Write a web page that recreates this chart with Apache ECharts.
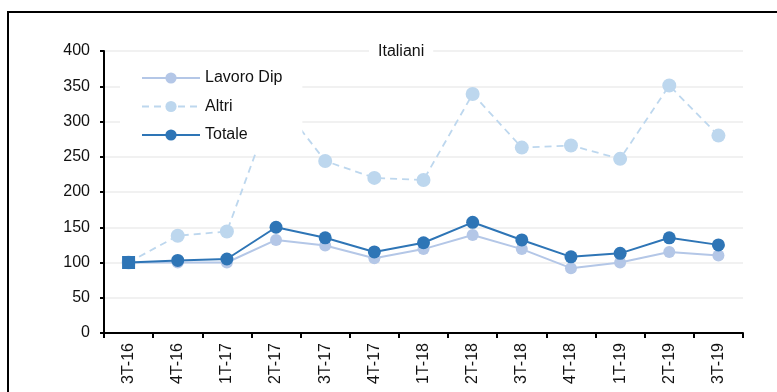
<!DOCTYPE html>
<html><head><meta charset="utf-8">
<script src="https://cdn.jsdelivr.net/npm/echarts@6/dist/echarts.min.js"></script>
<style>html,body{margin:0;padding:0;background:#fff}#c{width:777px;height:392px}</style>
</head><body><div id="c"></div>
<script>
const categories = ['3T-16','4T-16','1T-17','2T-17','3T-17','4T-17','1T-18','2T-18','3T-18','4T-18','1T-19','2T-19','3T-19'];
const lavoroDip = [100,100,100,132,124,106,119,139,119,92,100,115,110];
const altri = [100,138,144,334,244,220,217,339,263,266,247,351,280];
const totale = [100,103,105,150,135,115,128,157,132,108,113,135,125];
const yTicks = [0,50,100,150,200,250,300,350,400];

const font = 'Liberation Sans, Arial, sans-serif';
const chart = echarts.init(document.getElementById('c'));
chart.setOption({
  animation: false,
  backgroundColor: '#fff',
  graphic: [{type:'rect', shape:{x:8,y:12,width:820,height:420}, style:{fill:'none', stroke:'#000', lineWidth:2}, z:100}],
  title: {text:'Italiani', left:369, top:43, backgroundColor:'#fff', padding:[1,9],
    textStyle:{fontFamily:font, fontSize:16, fontWeight:'normal', color:'#111'}},
  legend: {orient:'vertical', left:120, top:62, padding:[8,20,9,21], itemGap:12.5, itemWidth:58, itemHeight:14,
    backgroundColor:'#fff', textStyle:{fontFamily:font, fontSize:16, color:'#111'},
    data:['Lavoro Dip','Altri','Totale']},
  grid: {left:104, right:34, top:51, bottom:59},
  xAxis: {type:'category', data:categories, boundaryGap:true,
    axisLine:{lineStyle:{color:'#000', width:2}},
    axisTick:{show:true, length:5, lineStyle:{color:'#000', width:2}},
    axisLabel:{rotate:90, margin:10, fontFamily:font, fontSize:16, color:'#111'}},
  yAxis: {type:'value', min:yTicks[0], max:yTicks[yTicks.length-1], interval:50,
    axisLine:{show:true, lineStyle:{color:'#000', width:2}},
    axisTick:{show:true, length:4, lineStyle:{color:'#000', width:2}},
    axisLabel:{margin:14, fontFamily:font, fontSize:16, color:'#111'},
    splitLine:{lineStyle:{color:'#ececec', width:1.5}}},
  series: [
    {name:'Lavoro Dip', type:'line', data:lavoroDip, symbol:'circle', symbolSize:12, z:2,
      itemStyle:{color:'#b4c7e7'}, lineStyle:{color:'#b4c7e7', width:2}},
    {name:'Altri', type:'line', data:altri, symbol:'circle', symbolSize:14, z:3,
      itemStyle:{color:'#bdd7ee'}, lineStyle:{color:'#bdd7ee', width:1.8, type:[7,5]}},
    {name:'Totale', type:'line', symbol:'circle', symbolSize:13, z:4,
      data: totale.map((v,i)=> i===0 ? {value:v, symbol:'rect', symbolSize:13} : v),
      itemStyle:{color:'#2e75b6'}, lineStyle:{color:'#2e75b6', width:2}}
  ]
});
</script></body></html>
